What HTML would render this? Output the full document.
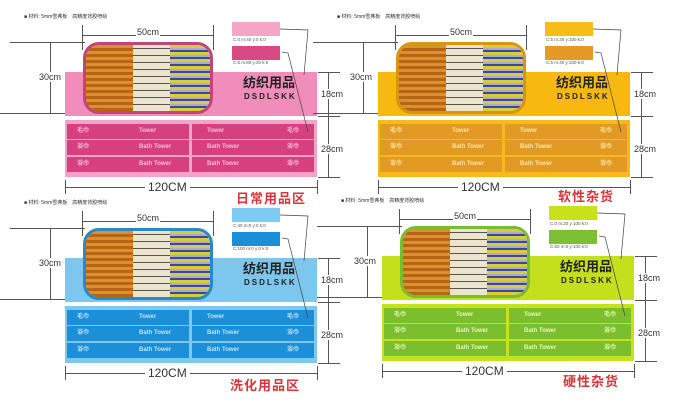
<!DOCTYPE html>
<html><head><meta charset="utf-8"><style>
*{margin:0;padding:0;box-sizing:border-box}
body{width:700px;height:410px;background:#fff;position:relative;overflow:hidden;font-family:"Liberation Sans","Noto Sans CJK SC",sans-serif}
.p{position:absolute;left:0;top:0;width:350px;height:205px}
.p div,.p span{position:absolute}
.mat{left:24px;top:13px;font-size:5px;color:#333;white-space:nowrap}
.ln{background:#555}
.t{font-size:9px;color:#333;white-space:nowrap;background:#fff;padding:0 1px}
.photo{left:83px;top:42px;width:130px;height:72px;border-radius:16px;border:3px solid;overflow:hidden;z-index:2}
.a{left:0;top:0;width:40%;height:100%;background:repeating-linear-gradient(0deg,#b86416 0 3px,#d9902e 3px 6px),#c77a22}
.b{left:38%;top:0;width:30%;height:100%;background:repeating-linear-gradient(0deg,#ece4cc 0 6px,#555 6px 7px)}
.c{left:68%;top:0;width:32%;height:100%;background:repeating-linear-gradient(0deg,#d8cc3a 0 3px,#3a4a9a 3px 5px,#b0a8d0 5px 7px)}
.band{left:65px;top:72px;width:252px;height:44px}
.box{left:65px;top:120px;width:252px;height:57px}
.row{height:15px;width:122px;font-size:6px;font-weight:bold;line-height:15px}
.row span{top:0}
.zh{left:178px;top:3px;font-size:13px;line-height:16px;font-weight:bold;color:#222;white-space:nowrap}
.en{left:179px;top:20px;font-size:8px;line-height:10px;font-weight:bold;color:#222;letter-spacing:2px}
.sw{left:232px;width:48px;height:14px}
.cap{left:233px;font-size:4.5px;color:#555;white-space:nowrap}
.lab{font-size:13px;font-weight:bold;color:#d8343a;white-space:nowrap;letter-spacing:1px}
.big{left:145px;top:180px;font-size:12px;color:#333;background:#fff;padding:0 3px}
</style></head><body>

<div class="p" style="left:0;top:0">
<div class="mat">■ 材料: 5mm雪弗板　高精度背胶喷绘</div>
<div class="ln" style="left:82px;top:35px;width:132px;height:1px"></div>
<div class="ln" style="left:82px;top:25px;width:1px;height:25px"></div>
<div class="ln" style="left:213px;top:25px;width:1px;height:25px"></div>
<span class="t" style="left:136px;top:27px">50cm</span>
<div class="ln" style="left:10px;top:42px;width:75px;height:1px"></div>
<div class="ln" style="left:0px;top:113px;width:85px;height:1px"></div>
<div class="ln" style="left:50px;top:42px;width:1px;height:71px"></div>
<span class="t" style="left:38px;top:72px">30cm</span>
<div class="band" style="background:#f08dbb"></div>
<div class="photo" style="border-color:#c0457a"><div class="a"></div><div class="b"></div><div class="c"></div></div>
<div class="band" style="background:transparent"><span class="zh">纺织用品</span><span class="en">DSDLSKK</span></div>
<div class="box" style="background:#f3a3c8">
<div class="row" style="left:2px;top:4px;background:#d6407e;color:#fbd"><span style="left:10px">毛巾</span><span style="left:72px">Tower</span></div>
<div class="row" style="left:2px;top:20px;background:#d6407e;color:#fbd"><span style="left:10px">浴巾</span><span style="left:72px">Bath Tower</span></div>
<div class="row" style="left:2px;top:37px;background:#d6407e;color:#fbd"><span style="left:10px">浴巾</span><span style="left:72px">Bath Tower</span></div>
<div class="row" style="left:127px;top:4px;background:#d6407e;color:#fbd"><span style="left:15px">Tower</span><span style="left:95px">毛巾</span></div>
<div class="row" style="left:127px;top:20px;background:#d6407e;color:#fbd"><span style="left:15px">Bath Tower</span><span style="left:95px">浴巾</span></div>
<div class="row" style="left:127px;top:37px;background:#d6407e;color:#fbd"><span style="left:15px">Bath Tower</span><span style="left:95px">浴巾</span></div>
</div>
<div class="ln" style="left:318px;top:72px;width:22px;height:1px"></div>
<div class="ln" style="left:318px;top:116px;width:22px;height:1px"></div>
<div class="ln" style="left:318px;top:177px;width:22px;height:1px"></div>
<div class="ln" style="left:328px;top:72px;width:1px;height:105px"></div>
<span class="t" style="left:320px;top:89px">18cm</span>
<span class="t" style="left:320px;top:144px">28cm</span>
<div class="ln" style="left:65px;top:187px;width:252px;height:1px"></div>
<div class="ln" style="left:65px;top:180px;width:1px;height:14px"></div>
<div class="ln" style="left:317px;top:180px;width:1px;height:14px"></div>
<span class="t big">120CM</span>
<span class="lab" style="left:236px;top:188px">日常用品区</span>
<div class="sw" style="top:22px;background:#f6a5c7"></div><span class="cap" style="top:37px">C:0 m:40 y:0 k:0</span>
<div class="sw" style="top:46px;background:#d94a84"></div><span class="cap" style="top:60px">C:5 m:80 y:20 k:0</span>
<svg style="position:absolute;left:0;top:0" width="350" height="205"><polyline points="280,29 308,30 304,75" fill="none" stroke="#444" stroke-width=".7"/><polyline points="282,52 288,53 308,132" fill="none" stroke="#444" stroke-width=".7"/></svg>
</div>

<div class="p" style="left:313px;top:0">
<div class="mat">■ 材料: 5mm雪弗板　高精度背胶喷绘</div>
<div class="ln" style="left:82px;top:35px;width:132px;height:1px"></div>
<div class="ln" style="left:82px;top:25px;width:1px;height:25px"></div>
<div class="ln" style="left:213px;top:25px;width:1px;height:25px"></div>
<span class="t" style="left:136px;top:27px">50cm</span>
<div class="ln" style="left:0px;top:42px;width:85px;height:1px"></div>
<div class="ln" style="left:0px;top:113px;width:85px;height:1px"></div>
<div class="ln" style="left:50px;top:42px;width:1px;height:71px"></div>
<span class="t" style="left:36px;top:72px">30cm</span>
<div class="band" style="background:#f7b90f"></div>
<div class="photo" style="border-color:#d9950f"><div class="a"></div><div class="b"></div><div class="c"></div></div>
<div class="band" style="background:transparent"><span class="zh">纺织用品</span><span class="en">DSDLSKK</span></div>
<div class="box" style="background:#f6bb1a">
<div class="row" style="left:2px;top:4px;background:#e39a25;color:#fde6a0"><span style="left:10px">毛巾</span><span style="left:72px">Tower</span></div>
<div class="row" style="left:2px;top:20px;background:#e39a25;color:#fde6a0"><span style="left:10px">浴巾</span><span style="left:72px">Bath Tower</span></div>
<div class="row" style="left:2px;top:37px;background:#e39a25;color:#fde6a0"><span style="left:10px">浴巾</span><span style="left:72px">Bath Tower</span></div>
<div class="row" style="left:127px;top:4px;background:#e39a25;color:#fde6a0"><span style="left:15px">Tower</span><span style="left:95px">毛巾</span></div>
<div class="row" style="left:127px;top:20px;background:#e39a25;color:#fde6a0"><span style="left:15px">Bath Tower</span><span style="left:95px">浴巾</span></div>
<div class="row" style="left:127px;top:37px;background:#e39a25;color:#fde6a0"><span style="left:15px">Bath Tower</span><span style="left:95px">浴巾</span></div>
</div>
<div class="ln" style="left:318px;top:72px;width:22px;height:1px"></div>
<div class="ln" style="left:318px;top:116px;width:22px;height:1px"></div>
<div class="ln" style="left:318px;top:177px;width:22px;height:1px"></div>
<div class="ln" style="left:328px;top:72px;width:1px;height:105px"></div>
<span class="t" style="left:320px;top:89px">18cm</span>
<span class="t" style="left:320px;top:144px">28cm</span>
<div class="ln" style="left:65px;top:187px;width:252px;height:1px"></div>
<div class="ln" style="left:65px;top:180px;width:1px;height:14px"></div>
<div class="ln" style="left:317px;top:180px;width:1px;height:14px"></div>
<span class="t big">120CM</span>
<span class="lab" style="left:245px;top:186px">软性杂货</span>
<div class="sw" style="top:22px;background:#f5bd19"></div><span class="cap" style="top:37px">C:5 m:20 y:100 k:0</span>
<div class="sw" style="top:46px;background:#e49a26"></div><span class="cap" style="top:60px">C:5 m:40 y:100 k:0</span>
<svg style="position:absolute;left:0;top:0" width="350" height="205"><polyline points="280,29 308,30 304,75" fill="none" stroke="#444" stroke-width=".7"/><polyline points="282,52 288,53 308,132" fill="none" stroke="#444" stroke-width=".7"/></svg>
</div>

<div class="p" style="left:0;top:186px">
<div class="mat">■ 材料: 5mm雪弗板　高精度背胶喷绘</div>
<div class="ln" style="left:82px;top:35px;width:132px;height:1px"></div>
<div class="ln" style="left:82px;top:25px;width:1px;height:25px"></div>
<div class="ln" style="left:213px;top:25px;width:1px;height:25px"></div>
<span class="t" style="left:136px;top:27px">50cm</span>
<div class="ln" style="left:10px;top:42px;width:75px;height:1px"></div>
<div class="ln" style="left:0px;top:113px;width:85px;height:1px"></div>
<div class="ln" style="left:50px;top:42px;width:1px;height:71px"></div>
<span class="t" style="left:38px;top:72px">30cm</span>
<div class="band" style="background:#7dc6ee"></div>
<div class="photo" style="border-color:#2a88c8"><div class="a"></div><div class="b"></div><div class="c"></div></div>
<div class="band" style="background:transparent"><span class="zh">纺织用品</span><span class="en">DSDLSKK</span></div>
<div class="box" style="background:#7ec8ef">
<div class="row" style="left:2px;top:4px;background:#1b8fd8;color:#bfe4fa"><span style="left:10px">毛巾</span><span style="left:72px">Tower</span></div>
<div class="row" style="left:2px;top:20px;background:#1b8fd8;color:#bfe4fa"><span style="left:10px">浴巾</span><span style="left:72px">Bath Tower</span></div>
<div class="row" style="left:2px;top:37px;background:#1b8fd8;color:#bfe4fa"><span style="left:10px">浴巾</span><span style="left:72px">Bath Tower</span></div>
<div class="row" style="left:127px;top:4px;background:#1b8fd8;color:#bfe4fa"><span style="left:15px">Tower</span><span style="left:95px">毛巾</span></div>
<div class="row" style="left:127px;top:20px;background:#1b8fd8;color:#bfe4fa"><span style="left:15px">Bath Tower</span><span style="left:95px">浴巾</span></div>
<div class="row" style="left:127px;top:37px;background:#1b8fd8;color:#bfe4fa"><span style="left:15px">Bath Tower</span><span style="left:95px">浴巾</span></div>
</div>
<div class="ln" style="left:318px;top:72px;width:22px;height:1px"></div>
<div class="ln" style="left:318px;top:116px;width:22px;height:1px"></div>
<div class="ln" style="left:318px;top:177px;width:22px;height:1px"></div>
<div class="ln" style="left:328px;top:72px;width:1px;height:105px"></div>
<span class="t" style="left:320px;top:89px">18cm</span>
<span class="t" style="left:320px;top:144px">28cm</span>
<div class="ln" style="left:65px;top:187px;width:252px;height:1px"></div>
<div class="ln" style="left:65px;top:180px;width:1px;height:14px"></div>
<div class="ln" style="left:317px;top:180px;width:1px;height:14px"></div>
<span class="t big">120CM</span>
<span class="lab" style="left:230px;top:189px">洗化用品区</span>
<div class="sw" style="top:22px;background:#7fcaf0"></div><span class="cap" style="top:37px">C:40 m:0 y:0 k:0</span>
<div class="sw" style="top:46px;background:#1a8fd9"></div><span class="cap" style="top:60px">C:100 m:0 y:0 k:0</span>
<svg style="position:absolute;left:0;top:0" width="350" height="205"><polyline points="280,29 308,30 304,75" fill="none" stroke="#444" stroke-width=".7"/><polyline points="282,52 288,53 308,132" fill="none" stroke="#444" stroke-width=".7"/></svg>
</div>

<div class="p" style="left:317px;top:184px">
<div class="mat">■ 材料: 5mm雪弗板　高精度背胶喷绘</div>
<div class="ln" style="left:82px;top:35px;width:132px;height:1px"></div>
<div class="ln" style="left:82px;top:25px;width:1px;height:25px"></div>
<div class="ln" style="left:213px;top:25px;width:1px;height:25px"></div>
<span class="t" style="left:136px;top:27px">50cm</span>
<div class="ln" style="left:0px;top:42px;width:85px;height:1px"></div>
<div class="ln" style="left:0px;top:113px;width:85px;height:1px"></div>
<div class="ln" style="left:50px;top:42px;width:1px;height:71px"></div>
<span class="t" style="left:36px;top:72px">30cm</span>
<div class="band" style="background:#c4e01c"></div>
<div class="photo" style="border-color:#7dba2f"><div class="a"></div><div class="b"></div><div class="c"></div></div>
<div class="band" style="background:transparent"><span class="zh">纺织用品</span><span class="en">DSDLSKK</span></div>
<div class="box" style="background:#c4e21d">
<div class="row" style="left:2px;top:4px;background:#7cbf2e;color:#e6f7b0"><span style="left:10px">毛巾</span><span style="left:72px">Tower</span></div>
<div class="row" style="left:2px;top:20px;background:#7cbf2e;color:#e6f7b0"><span style="left:10px">浴巾</span><span style="left:72px">Bath Tower</span></div>
<div class="row" style="left:2px;top:37px;background:#7cbf2e;color:#e6f7b0"><span style="left:10px">浴巾</span><span style="left:72px">Bath Tower</span></div>
<div class="row" style="left:127px;top:4px;background:#7cbf2e;color:#e6f7b0"><span style="left:15px">Tower</span><span style="left:95px">毛巾</span></div>
<div class="row" style="left:127px;top:20px;background:#7cbf2e;color:#e6f7b0"><span style="left:15px">Bath Tower</span><span style="left:95px">浴巾</span></div>
<div class="row" style="left:127px;top:37px;background:#7cbf2e;color:#e6f7b0"><span style="left:15px">Bath Tower</span><span style="left:95px">浴巾</span></div>
</div>
<div class="ln" style="left:318px;top:72px;width:22px;height:1px"></div>
<div class="ln" style="left:318px;top:116px;width:22px;height:1px"></div>
<div class="ln" style="left:318px;top:177px;width:22px;height:1px"></div>
<div class="ln" style="left:328px;top:72px;width:1px;height:105px"></div>
<span class="t" style="left:320px;top:89px">18cm</span>
<span class="t" style="left:320px;top:144px">28cm</span>
<div class="ln" style="left:65px;top:187px;width:252px;height:1px"></div>
<div class="ln" style="left:65px;top:180px;width:1px;height:14px"></div>
<div class="ln" style="left:317px;top:180px;width:1px;height:14px"></div>
<span class="t big">120CM</span>
<span class="lab" style="left:246px;top:187px">硬性杂货</span>
<div class="sw" style="top:22px;background:#c9e11c"></div><span class="cap" style="top:37px">C:0 m:20 y:100 k:0</span>
<div class="sw" style="top:46px;background:#7dbf33"></div><span class="cap" style="top:60px">C:60 m:0 y:100 k:0</span>
<svg style="position:absolute;left:0;top:0" width="350" height="205"><polyline points="280,29 308,30 304,75" fill="none" stroke="#444" stroke-width=".7"/><polyline points="282,52 288,53 308,132" fill="none" stroke="#444" stroke-width=".7"/></svg>
</div>
</body></html>
